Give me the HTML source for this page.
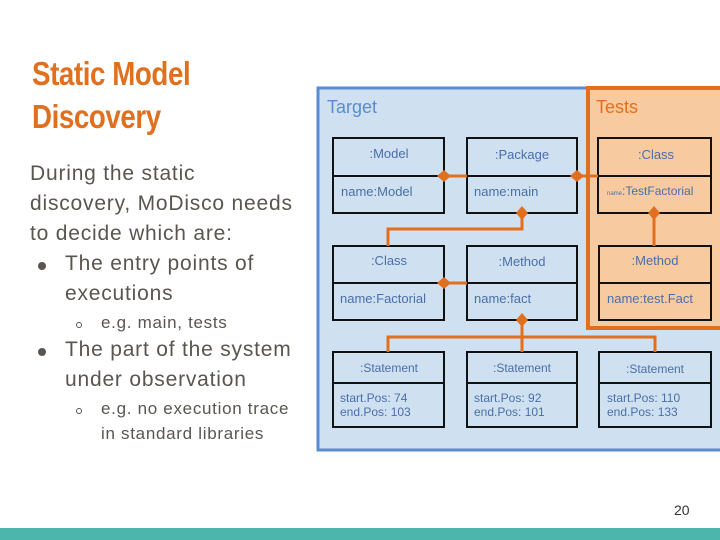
<!DOCTYPE html>
<html><head><style>
html,body{margin:0;padding:0;background:#fff;}
body{width:720px;height:540px;position:relative;overflow:hidden;font-family:"Liberation Sans",sans-serif;}
.t{position:absolute;white-space:nowrap;}
.title{left:32px;color:#e0701e;font-size:33px;font-weight:bold;font-family:"Liberation Sans Narrow","Liberation Sans",sans-serif;transform:scaleX(0.84);transform-origin:left;letter-spacing:-0.5px;}
.b{color:#5a554f;font-size:21px;letter-spacing:0.8px;}
.s{color:#5a554f;font-size:17px;letter-spacing:0.7px;}
.dot{position:absolute;width:8px;height:8px;border-radius:50%;background:#5a554f;}
.ring{position:absolute;width:4px;height:4px;border-radius:50%;border:1px solid #5a554f;}
</style></head><body>
<div class="t title" style="top:55px">Static Model</div>
<div class="t title" style="top:98px">Discovery</div>
<div class="t b" style="left:30px;top:162px">During the static</div>
<div class="t b" style="left:30px;top:192px">discovery, MoDisco needs</div>
<div class="t b" style="left:30px;top:222px">to decide which are:</div>
<div class="dot" style="left:38px;top:262px"></div>
<div class="t b" style="left:65px;top:252px">The entry points of</div>
<div class="t b" style="left:65px;top:282px">executions</div>
<div class="ring" style="left:76px;top:322px"></div>
<div class="t s" style="left:101px;top:313px">e.g. main, tests</div>
<div class="dot" style="left:38px;top:348px"></div>
<div class="t b" style="left:65px;top:338px">The part of the system</div>
<div class="t b" style="left:65px;top:368px">under observation</div>
<div class="ring" style="left:76px;top:408px"></div>
<div class="t s" style="left:101px;top:399px">e.g. no execution trace</div>
<div class="t s" style="left:101px;top:424px">in standard libraries</div>
<div class="t" style="left:674px;top:502px;font-size:14px;color:#333">20</div>
<div style="position:absolute;left:0;top:528px;width:720px;height:12px;background:#4db6ac"></div>

<svg style="position:absolute;left:0;top:0" width="720" height="540" font-family="Liberation Sans, sans-serif">
<rect x="318" y="88" width="410" height="362" fill="#cfe0f1" stroke="#5b8bd0" stroke-width="3"/>
<rect x="588" y="88" width="140" height="240" fill="#f8caa0" stroke="#e07020" stroke-width="4"/>
<text x="327" y="113" font-size="18" fill="#5b8bd0">Target</text>
<text x="596" y="113" font-size="18" fill="#e07020">Tests</text>
<g stroke="#111" stroke-width="2" fill="none">
<rect x="333" y="138" width="111" height="75"/><line x1="333" y1="176" x2="444" y2="176"/>
<rect x="467" y="138" width="110" height="75"/><line x1="467" y1="176" x2="577" y2="176"/>
<rect x="598" y="138" width="113" height="75"/><line x1="598" y1="176" x2="711" y2="176"/>
<rect x="333" y="246" width="111" height="74"/><line x1="333" y1="283" x2="444" y2="283"/>
<rect x="467" y="246" width="110" height="74"/><line x1="467" y1="283" x2="577" y2="283"/>
<rect x="599" y="246" width="112" height="74"/><line x1="599" y1="283" x2="711" y2="283"/>
<rect x="333" y="352" width="111" height="75"/><line x1="333" y1="383" x2="444" y2="383"/>
<rect x="467" y="352" width="110" height="75"/><line x1="467" y1="383" x2="577" y2="383"/>
<rect x="599" y="352" width="112" height="75"/><line x1="599" y1="383" x2="711" y2="383"/>
</g>
<g stroke="#e07020" stroke-width="3" fill="none">
<line x1="444" y1="176" x2="467" y2="176"/>
<line x1="577" y1="176" x2="598" y2="176"/>
<polyline points="522,213 522,229 388,229 388,246"/>
<line x1="654" y1="213" x2="654" y2="246"/>
<line x1="444" y1="283" x2="467" y2="283"/>
<line x1="522" y1="320" x2="522" y2="352"/>
<polyline points="388,352 388,337 655,337 655,352"/>
</g>
<g fill="#e07020">
<polygon points="437,176 444,170 451,176 444,182"/>
<polygon points="570,176 577,170 584,176 577,182"/>
<polygon points="522,206 528,213 522,220 516,213"/>
<polygon points="654,206 660,213 654,220 648,213"/>
<polygon points="437,283 444,277 451,283 444,289"/>
<polygon points="522,313 528,320 522,327 516,320"/>
</g>
<g font-size="13" fill="#4a6fa8">
<text x="389" y="158" text-anchor="middle">:Model</text>
<text x="522" y="159" text-anchor="middle">:Package</text>
<text x="656" y="159" text-anchor="middle">:Class</text>
<text x="341" y="196">name:Model</text>
<text x="474" y="196">name:main</text>
<text x="607" y="195" font-size="12"><tspan font-size="6">name</tspan>:TestFactorial</text>
<text x="389" y="265" text-anchor="middle">:Class</text>
<text x="522" y="266" text-anchor="middle">:Method</text>
<text x="655" y="265" text-anchor="middle">:Method</text>
<text x="340" y="303">name:Factorial</text>
<text x="474" y="303">name:fact</text>
<text x="607" y="303">name:test.Fact</text>
<text x="389" y="372" text-anchor="middle" font-size="12">:Statement</text>
<text x="522" y="372" text-anchor="middle" font-size="12">:Statement</text>
<text x="655" y="373" text-anchor="middle" font-size="12">:Statement</text>
<g font-size="12">
<text x="340" y="402">start.Pos: 74</text><text x="340" y="416">end.Pos: 103</text>
<text x="474" y="402">start.Pos: 92</text><text x="474" y="416">end.Pos: 101</text>
<text x="607" y="402">start.Pos: 110</text><text x="607" y="416">end.Pos: 133</text>
</g>
</g>
</svg>
</body></html>
